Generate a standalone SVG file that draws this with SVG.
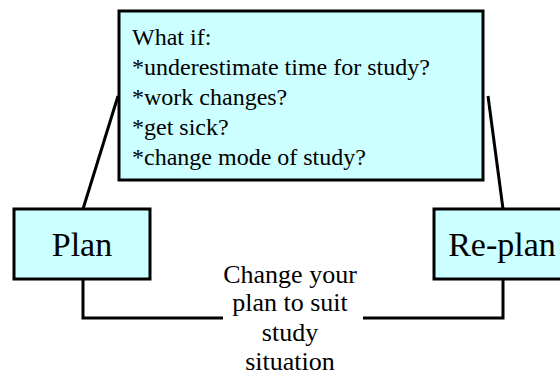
<svg xmlns="http://www.w3.org/2000/svg" width="560" height="375" viewBox="0 0 560 375">
<style>
.box{fill:#CCFFFF;stroke:#000;stroke-width:3}
.ln{fill:none;stroke:#000;stroke-width:3}
</style>
<rect width="560" height="375" fill="#fff"/>
<g id="connectors">
<line class="ln" x1="118" y1="96" x2="83" y2="209"/>
<line class="ln" x1="488" y1="96" x2="503" y2="209"/>
<polyline class="ln" points="83,279 83,318 223,318"/>
<polyline class="ln" points="503,279 503,318 363,318"/>
</g>
<g id="whatif">
<rect class="box" x="119" y="11" width="364" height="169"/>
<text x="132" y="45" font-family="Liberation Serif" font-size="24">What if:</text>
<text x="132" y="75" font-family="Liberation Serif" font-size="24">*underestimate time for study?</text>
<text x="132" y="105" font-family="Liberation Serif" font-size="24">*work changes?</text>
<text x="132" y="135" font-family="Liberation Serif" font-size="24">*get sick?</text>
<text x="132" y="165" font-family="Liberation Serif" font-size="24">*change mode of study?</text>
</g>
<g id="plan">
<rect class="box" x="14" y="209" width="136" height="70"/>
<text x="82" y="256" text-anchor="middle" font-family="Liberation Serif" font-size="34">Plan</text>
</g>
<g id="replan">
<rect class="box" x="434" y="209" width="136" height="70"/>
<text x="502" y="256" text-anchor="middle" font-family="Liberation Serif" font-size="34">Re-plan</text>
</g>
<g id="label">
<text x="290" y="283" text-anchor="middle" font-family="Liberation Serif" font-size="26">Change your</text>
<text x="290" y="311" text-anchor="middle" font-family="Liberation Serif" font-size="26">plan to suit</text>
<text x="290" y="341" text-anchor="middle" font-family="Liberation Serif" font-size="26">study</text>
<text x="290" y="370" text-anchor="middle" font-family="Liberation Serif" font-size="26">situation</text>
</g>
</svg>
